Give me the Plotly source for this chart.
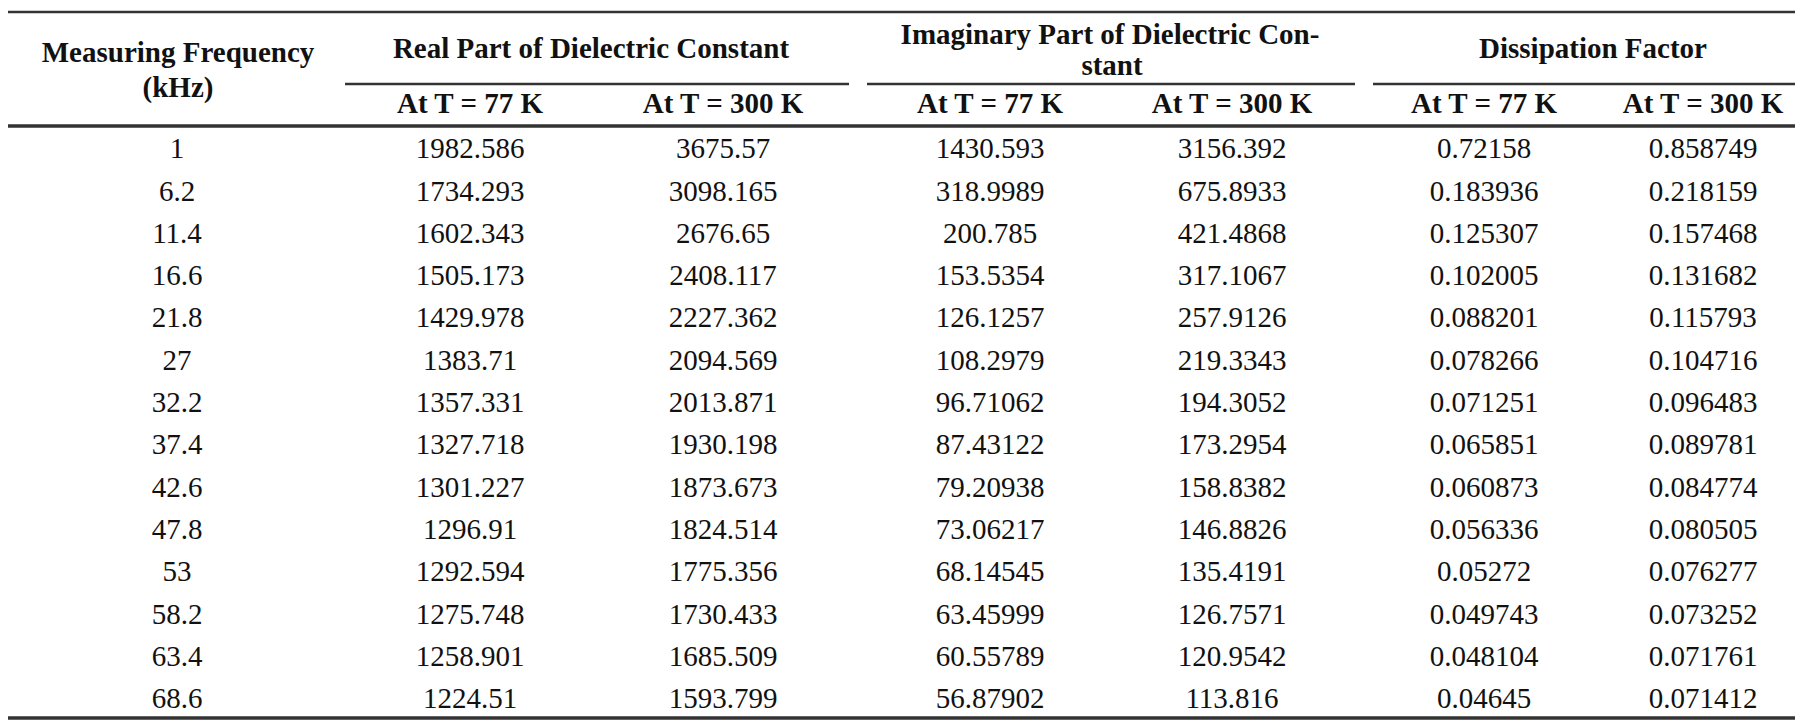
import plotly.graph_objects as go

# ---- data ----
freq_khz = ["1", "6.2", "11.4", "16.6", "21.8", "27", "32.2", "37.4", "42.6", "47.8", "53", "58.2", "63.4", "68.6"]
real_77 = ["1982.586", "1734.293", "1602.343", "1505.173", "1429.978", "1383.71", "1357.331", "1327.718", "1301.227", "1296.91", "1292.594", "1275.748", "1258.901", "1224.51"]
real_300 = ["3675.57", "3098.165", "2676.65", "2408.117", "2227.362", "2094.569", "2013.871", "1930.198", "1873.673", "1824.514", "1775.356", "1730.433", "1685.509", "1593.799"]
imag_77 = ["1430.593", "318.9989", "200.785", "153.5354", "126.1257", "108.2979", "96.71062", "87.43122", "79.20938", "73.06217", "68.14545", "63.45999", "60.55789", "56.87902"]
imag_300 = ["3156.392", "675.8933", "421.4868", "317.1067", "257.9126", "219.3343", "194.3052", "173.2954", "158.8382", "146.8826", "135.4191", "126.7571", "120.9542", "113.816"]
diss_77 = ["0.72158", "0.183936", "0.125307", "0.102005", "0.088201", "0.078266", "0.071251", "0.065851", "0.060873", "0.056336", "0.05272", "0.049743", "0.048104", "0.04645"]
diss_300 = ["0.858749", "0.218159", "0.157468", "0.131682", "0.115793", "0.104716", "0.096483", "0.089781", "0.084774", "0.080505", "0.076277", "0.073252", "0.071761", "0.071412"]

header_lines = ["Measuring Frequency", "(kHz)",
                "Real Part of Dielectric Constant",
                "Imaginary Part of Dielectric Con-", "stant",
                "Dissipation Factor"]
sub_headers = ["At T = 77 K", "At T = 300 K"]

columns = [freq_khz, real_77, real_300, imag_77, imag_300, diss_77, diss_300]

# ---- layout geometry (pixel-like axis units) ----
W, H = 1803, 721
col_x = [169, 462, 715, 982, 1224, 1476, 1695]
header_x = [170, 170, 583, 1102, 1104, 1585]
header_y = [47, 82, 43, 29, 60, 43]
group_line_spans = [(337, 841), (859, 1347), (1365, 1797)]
row_y0 = 143
row_step = 42.3
FONT = "Liberation Serif, Times New Roman, serif"
FS = 29
ink = "#111111"

fig = go.Figure()

# data cells
for ci, col in enumerate(columns):
    fig.add_trace(go.Scatter(
        x=[col_x[ci]] * len(col),
        y=[row_y0 + i * row_step for i in range(len(col))],
        mode="text", text=col, textposition="middle center",
        textfont=dict(family=FONT, size=FS, color=ink),
        hoverinfo="skip", showlegend=False))

# sub headers
fig.add_trace(go.Scatter(
    x=col_x[1:], y=[98] * 6, mode="text",
    text=[f"<b>{sub_headers[i % 2]}</b>" for i in range(6)],
    textposition="middle center",
    textfont=dict(family=FONT, size=FS, color=ink),
    hoverinfo="skip", showlegend=False))

# top headers
fig.add_trace(go.Scatter(
    x=header_x, y=header_y, mode="text",
    text=[f"<b>{h}</b>" for h in header_lines],
    textposition="middle center",
    textfont=dict(family=FONT, size=FS, color=ink),
    hoverinfo="skip", showlegend=False))

shapes = []
# full-width rules
for yv, wd in [(4, 2.5), (118, 3.5), (710, 3.5)]:
    shapes.append(dict(type="line", xref="x", yref="y", x0=0, x1=W, y0=yv, y1=yv,
                       line=dict(color="#333333", width=wd)))
# partial group underlines
for (a, b) in group_line_spans:
    shapes.append(dict(type="line", xref="x", yref="y", x0=a, x1=b, y0=76, y1=76,
                       line=dict(color="#333333", width=2.5)))

fig.update_layout(
    width=W, height=H,
    margin=dict(l=0, r=0, t=0, b=0),
    paper_bgcolor="white", plot_bgcolor="white",
    xaxis=dict(range=[0, W], visible=False, fixedrange=True),
    yaxis=dict(range=[H, 0], visible=False, fixedrange=True),
    shapes=shapes,
)

fig.write_html("out.html")
